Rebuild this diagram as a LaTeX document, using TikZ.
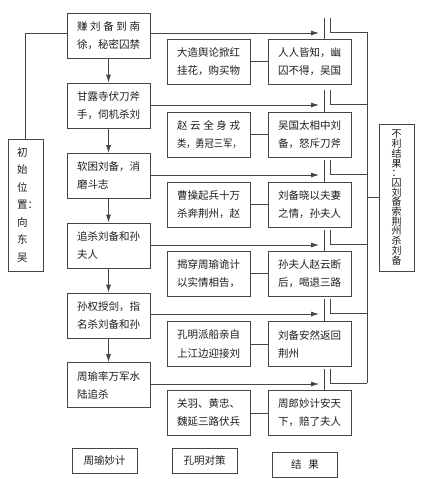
\documentclass[tikz,border=0pt]{standalone}
\usepackage{fontspec}
\setmainfont{Noto Sans CJK SC}
\usepackage{graphicx}
\usetikzlibrary{arrows.meta}
\definecolor{ln}{RGB}{70,70,70}
\definecolor{tx}{RGB}{30,30,30}
\newcommand\tightlines{\lineskiplimit=-100pt\relax\lineskip=0pt\relax}
\begin{document}
\begin{tikzpicture}[x=1pt,y=-1pt,
  every node/.style={text=tx},
  box/.style={draw=ln, line width=0.8pt, minimum width=83pt, minimum height=45pt,
    inner sep=0pt, text width=63pt, align=left, font=\fontsize{10.5pt}{18pt}\selectfont},
  vbox/.style={draw=ln, line width=0.8pt, inner sep=0pt, minimum width=35pt},
  leg/.style={draw=ln, line width=0.8pt, minimum width=65pt, minimum height=25pt,
    inner sep=0pt, font=\fontsize{10.5pt}{12pt}\selectfont},
  conn/.style={draw=ln, line width=0.8pt},
  arr/.style={conn, -{Latex[length=8pt,width=5pt]}}
]
\fill[white] (0,0) rectangle (424,479);
\useasboundingbox (0,0) rectangle (424,479);

% main column
\node[box] (m1) at (108.5,35.5) {\makebox[63pt]{赚\hfill 刘\hfill 备\hfill 到\hfill 南}\\徐，秘密囚禁};
\node[box] (m2) at (108.5,105.5) {甘露寺伏刀斧\\手，伺机杀刘};
\node[box] (m3) at (108.5,176) {软困刘备，消\\磨斗志};
\node[box] (m4) at (108.5,245.5) {追杀刘备和孙\\夫人};
\node[box] (m5) at (108.5,315.5) {孙权授剑，指\\名杀刘备和孙};
\node[box] (m6) at (108.5,385) {周瑜率万军水\\陆追杀};

% middle column
\node[box] (c1) at (208.5,61.5) {大造舆论掀红\\挂花，购买物};
\node[box] (c2) at (208.5,134.5) {\makebox[63pt]{赵\hfill 云\hfill 全\hfill 身\hfill 戎}\\\scalebox{0.88}[1]{类，勇冠三军，}};
\node[box] (c3) at (208.5,204.5) {曹操起兵十万\\杀奔荆州，赵};
\node[box] (c4) at (208.5,273.5) {揭穿周瑜诡计\\以实情相告，};
\node[box] (c5) at (208.5,344) {孔明派船亲自\\上江边迎接刘};
\node[box] (c6) at (208.5,413) {关羽、黄忠、\\魏延三路伏兵};

% right column
\node[box] (r1) at (309.5,61.5) {人人皆知，幽\\囚不得，吴国};
\node[box] (r2) at (309.5,134.5) {吴国太相中刘\\备，怒斥刀斧};
\node[box] (r3) at (309.5,204.5) {刘备晓以夫妻\\之情，孙夫人};
\node[box] (r4) at (309.5,273.5) {孙夫人赵云断\\后，喝退三路};
\node[box] (r5) at (309.5,344) {刘备安然返回\\荆州};
\node[box] (r6) at (309.5,413) {周郎妙计安天\\下，赔了夫人};

% side boxes
\node[vbox, minimum height=132pt, text width=17pt, align=left,
  font=\fontsize{10.5pt}{17.5pt}\selectfont] (lb) at (25.5,205)
  {初\\始\\位\\置：\\向\\东\\吴};
\node[vbox, minimum height=147pt, text width=10pt, align=center,
  font={\fontsize{10pt}{9.7pt}\selectfont\tightlines}] (rb) at (396.5,197.5)
  {不\\利\\结\\果\\：\\囚\\刘\\备\\索\\荆\\州\\杀\\刘\\备};

% legend
\node[leg] (l1) at (104.5,460.5) {周瑜妙计};
\node[leg] (l2) at (204.5,460.5) {孔明对策};
\node[leg] (l3) at (305,464.5) {结\hspace{7pt}果};

% main column arrows
\draw[arr] (m1) -- (m2);
\draw[arr] (m2) -- (m3);
\draw[arr] (m3) -- (m4);
\draw[arr] (m4) -- (m5);
\draw[arr] (m5) -- (m6);

% rows
\foreach \i/\y/\top in {1/33/39, 2/105/112, 3/175/181.5, 4/245/251, 5/314/321.5, 6/384/390.5}{
  \coordinate (t\i) at (319,\y);
  \draw[arr] (m\i.east |- t\i) -- (t\i);
  \draw[conn] (324,{\y-15}) -- (324,\top);
  \draw[conn] (330,{\y-15}) -- (330,{\y-1}) -- (367,{\y-1});
  \draw[conn] (c\i) -- (r\i);
}
\coordinate (vtop) at (367,32);
\coordinate (vbot) at (367,383.4);
\draw[conn] (vtop) -- (vbot);
\draw[conn] (rb.west) -- (rb.west -| vtop);

% left box link
\draw[conn] (lb.north) |- (m1.west |- t1);
\end{tikzpicture}
\end{document}
